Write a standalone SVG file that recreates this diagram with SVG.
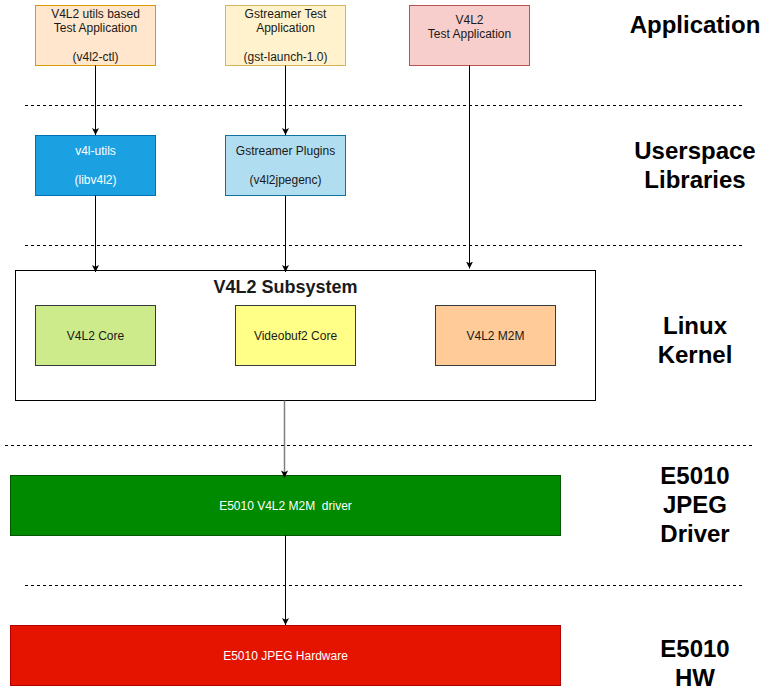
<svg xmlns="http://www.w3.org/2000/svg" width="766" height="697" viewBox="0 0 766 697">
<defs>
<marker id="arr" markerWidth="8" markerHeight="8" refX="7" refY="4" orient="auto" markerUnits="userSpaceOnUse">
<path d="M0,0.5 L7,4 L0,7.5 L1.8,4 Z" fill="#000"/>
</marker>
<style>
.t{font-family:"Liberation Sans",Arial,sans-serif;font-size:12px;text-anchor:middle;fill:#1a1a1a}
.w{fill:#ffffff}
.lbl{font-family:"Liberation Sans",Arial,sans-serif;font-size:24px;font-weight:bold;text-anchor:middle;fill:#000}
.dash{stroke:#000;stroke-width:1;stroke-dasharray:3 3;fill:none}
.c{stroke:#000;stroke-width:1;fill:none;marker-end:url(#arr)}
</style>
</defs>
<rect width="766" height="697" fill="#fff"/>
<g id="separators">
<line class="dash" x1="25" y1="105.5" x2="742" y2="105.5"/>
<line class="dash" x1="25" y1="245.5" x2="742" y2="245.5"/>
<line class="dash" x1="5" y1="445.5" x2="752" y2="445.5"/>
<line class="dash" x1="25" y1="585.5" x2="742" y2="585.5"/>
</g>
<g id="layer-labels">
<text class="lbl" x="695" y="33">Application</text>
<text class="lbl" x="695" y="159">Userspace</text>
<text class="lbl" x="695" y="188">Libraries</text>
<text class="lbl" x="695" y="334">Linux</text>
<text class="lbl" x="695" y="363">Kernel</text>
<text class="lbl" x="695" y="484">E5010</text>
<text class="lbl" x="695" y="513">JPEG</text>
<text class="lbl" x="695" y="542">Driver</text>
<text class="lbl" x="695" y="657">E5010</text>
<text class="lbl" x="695" y="686">HW</text>
</g>
<g id="v4l2-utils-app">
<rect x="35.5" y="5.5" width="120" height="60" fill="#ffe6cc" stroke="#d79b00"/>
<text class="t" x="95.5" y="18">V4L2 utils based</text>
<text class="t" x="95.5" y="32">Test Application</text>
<text class="t" x="95.5" y="61">(v4l2-ctl)</text>
</g>
<g id="gst-test-app">
<rect x="225.5" y="5.5" width="120" height="60" fill="#fff2cc" stroke="#d6b656"/>
<text class="t" x="285.5" y="18">Gstreamer Test</text>
<text class="t" x="285.5" y="32">Application</text>
<text class="t" x="285.5" y="61">(gst-launch-1.0)</text>
</g>
<g id="v4l2-test-app">
<rect x="409.5" y="5.5" width="120" height="60" fill="#f8cecc" stroke="#b85450"/>
<text class="t" x="469.5" y="24">V4L2</text>
<text class="t" x="469.5" y="38">Test Application</text>
</g>
<g id="v4l-utils">
<rect x="35.5" y="135.5" width="120" height="60" fill="#1ba1e2" stroke="#006eaf"/>
<text class="t w" x="95.5" y="155">v4l-utils</text>
<text class="t w" x="95.5" y="184">(libv4l2)</text>
</g>
<g id="gst-plugins">
<rect x="225.5" y="135.5" width="120" height="60" fill="#b1ddf0" stroke="#10739e"/>
<text class="t" x="285.5" y="155">Gstreamer Plugins</text>
<text class="t" x="285.5" y="184">(v4l2jpegenc)</text>
</g>
<g id="v4l2-subsystem">
<rect x="15.5" y="270.5" width="580" height="130" fill="#fff" stroke="#000"/>
<text x="285.5" y="293" style="font-family:'Liberation Sans',Arial,sans-serif;font-size:18px;font-weight:bold;text-anchor:middle;fill:#1a1a1a">V4L2 Subsystem</text>
</g>
<g id="v4l2-core">
<rect x="35.5" y="305.5" width="120" height="60" fill="#cdeb8b" stroke="#36393d"/>
<text class="t" x="95.5" y="339.5">V4L2 Core</text>
</g>
<g id="videobuf2-core">
<rect x="235.5" y="305.5" width="120" height="60" fill="#ffff88" stroke="#36393d"/>
<text class="t" x="295.5" y="339.5">Videobuf2 Core</text>
</g>
<g id="v4l2-m2m">
<rect x="435.5" y="305.5" width="120" height="60" fill="#ffcc99" stroke="#36393d"/>
<text class="t" x="495.5" y="339.5">V4L2 M2M</text>
</g>
<g id="e5010-driver">
<rect x="10.5" y="475.5" width="550" height="60" fill="#008a00" stroke="#005700"/>
<text class="t w" x="285.5" y="509.5" xml:space="preserve">E5010 V4L2 M2M  driver</text>
</g>
<g id="e5010-hw">
<rect x="10.5" y="625.5" width="550" height="60" fill="#e51400" stroke="#b20000"/>
<text class="t w" x="285.5" y="659.5">E5010 JPEG Hardware</text>
</g>
<g id="connectors">
<line class="c" x1="95.5" y1="65.5" x2="95.5" y2="135"/>
<line class="c" x1="285.5" y1="65.5" x2="285.5" y2="135"/>
<line class="c" x1="469.5" y1="65.5" x2="469.5" y2="268.5"/>
<line class="c" x1="95.5" y1="195.5" x2="95.5" y2="272"/>
<line class="c" x1="285.5" y1="195.5" x2="285.5" y2="272"/>
<line x1="284.5" y1="400.5" x2="284.5" y2="474" stroke="#808080" stroke-width="1.5"/>
<path d="M281,470.5 L284.5,478 L288,470.5 L284.5,472.3 Z" fill="#000"/>
<line class="c" x1="285.5" y1="535.5" x2="285.5" y2="625"/>
</g>
</svg>
